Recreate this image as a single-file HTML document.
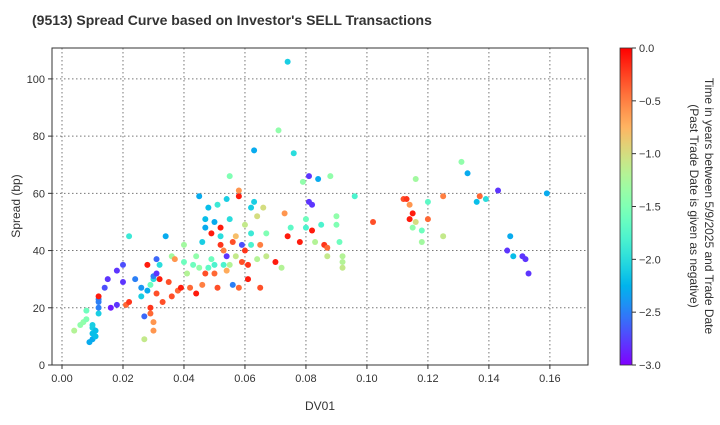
<!DOCTYPE html>
<html><head><meta charset="utf-8"><style>
body{margin:0;background:#fff;font-family:"Liberation Sans",sans-serif}
</style></head><body>
<svg id="chart" width="720" height="420" xmlns="http://www.w3.org/2000/svg" font-family="Liberation Sans, sans-serif">
<rect width="720" height="420" fill="#fff"/>
<text x="32" y="25" font-size="14" font-weight="bold" fill="#333">(9513)   Spread Curve based on Investor's SELL Transactions</text>
<g id="grid"></g>
<g id="points"></g>
<rect x="52" y="48" width="536" height="317" fill="none" stroke="#333" stroke-width="1"/>
<g id="xticks"></g>
<g id="yticks"></g>
<text x="320" y="410" font-size="12" text-anchor="middle" fill="#333">DV01</text>
<text transform="translate(20,206) rotate(-90)" font-size="12" text-anchor="middle" fill="#333">Spread (bp)</text>
<defs><linearGradient id="cg" x1="0" y1="1" x2="0" y2="0"></linearGradient></defs>
<rect x="620" y="48" width="12" height="317" fill="url(#cg)" stroke="#333" stroke-width="0.8"/>
<g id="cticks"></g>
<text transform="translate(698,206) rotate(90)" font-size="12" text-anchor="middle" fill="#333"><tspan x="0" dy="-7">Time in years between 5/9/2025 and Trade Date</tspan><tspan x="0" dy="15">(Past Trade Date is given as negative)</tspan></text>
</svg>
<script>
const xTicks=[0,0.02,0.04,0.06,0.08,0.10,0.12,0.14,0.16];
const xTickLabels=["0.00","0.02","0.04","0.06","0.08","0.10","0.12","0.14","0.16"];
const yTicks=[0,20,40,60,80,100];
const cTicks=[0,-0.5,-1,-1.5,-2,-2.5,-3];
const cTickLabels=["0.0","−0.5","−1.0","−1.5","−2.0","−2.5","−3.0"];
const dv01=[0.004,0.006,0.007,0.008,0.008,0.009,0.010,0.010,0.010,0.010,0.011,0.011,0.012,0.012,0.012,0.012,0.012,0.014,0.015,0.016,0.018,0.018,0.020,0.020,0.021,0.022,0.022,0.024,0.026,0.026,0.027,0.027,0.028,0.028,0.029,0.029,0.029,0.030,0.030,0.030,0.030,0.031,0.031,0.032,0.033,0.032,0.034,0.036,0.036,0.037,0.038,0.039,0.040,0.040,0.041,0.042,0.043,0.044,0.044,0.045,0.045,0.046,0.046,0.047,0.047,0.047,0.048,0.048,0.049,0.049,0.050,0.050,0.050,0.051,0.051,0.052,0.052,0.052,0.053,0.053,0.054,0.054,0.054,0.055,0.055,0.055,0.056,0.056,0.057,0.057,0.058,0.058,0.058,0.059,0.059,0.060,0.060,0.061,0.061,0.062,0.062,0.062,0.063,0.063,0.064,0.064,0.065,0.065,0.066,0.067,0.067,0.070,0.071,0.072,0.073,0.074,0.074,0.075,0.076,0.078,0.079,0.080,0.080,0.081,0.081,0.082,0.082,0.083,0.084,0.085,0.086,0.087,0.087,0.088,0.090,0.090,0.091,0.092,0.092,0.092,0.096,0.102,0.112,0.113,0.114,0.114,0.115,0.115,0.116,0.116,0.118,0.118,0.120,0.120,0.125,0.125,0.131,0.133,0.136,0.137,0.139,0.143,0.146,0.147,0.148,0.151,0.152,0.153,0.159,0.035,0.031];
const spread=[12,14,15,16,19,8,9,11,13,14,10,12,18,20,22,23,24,27,30,20,21,33,35,29,21,45,22,30,27,24,9,17,26,35,28,20,18,15,12,30,31,32,25,35,22,30,45,24,38,37,26,27,36,42,32,27,35,25,38,34,59,43,28,48,32,51,55,34,37,46,50,35,32,56,27,45,48,42,35,40,38,33,58,51,66,35,28,43,38,45,27,59,61,36,42,49,40,30,35,46,42,55,57,75,37,52,42,27,55,38,46,36,82,34,53,106,45,48,74,43,64,48,51,66,57,56,47,43,65,49,42,41,38,66,52,49,43,38,36,34,59,50,58,58,56,51,48,53,65,50,47,43,57,51,45,59,71,67,57,59,58,61,40,45,38,38,37,32,60,29,37];
const tyears=[-1.2,-1.4,-1.4,-1.5,-1.6,-2.3,-2.3,-2.2,-2.1,-2.1,-2.2,-2.2,-2.1,-2.5,-2.5,-2.5,-0.1,-2.7,-2.8,-2.9,-2.8,-2.8,-2.7,-2.8,-0.4,-1.9,-0.2,-2.5,-2.4,-2.1,-1.1,-2.6,-2.3,-0.1,-1.6,-0.2,-0.4,-0.6,-0.6,-2.0,-2.5,-2.8,-0.3,-2.0,-0.3,-0.1,-2.3,-0.3,-1.3,-0.6,-0.4,-0.1,-1.6,-1.3,-1.2,-0.4,-1.6,-0.1,-1.4,-1.4,-2.3,-2.1,-0.5,-2.3,-0.3,-2.2,-2.2,-1.7,-1.6,-0.1,-2.3,-1.8,-0.4,-1.9,-0.3,-2.0,-0.1,-0.2,-1.8,-0.5,-2.8,-0.7,-2.1,-2.0,-1.5,-1.2,-2.5,-0.3,-1.1,-0.8,-0.4,-0.1,-0.6,-0.3,-2.7,-1.1,-0.2,-0.1,-0.2,-1.9,-1.8,-2.1,-2.1,-2.3,-1.2,-1.0,-0.5,-0.3,-1.0,-1.1,-1.5,-0.1,-1.4,-1.2,-0.6,-2.1,-0.1,-1.7,-2.0,-0.1,-1.4,-1.8,-1.6,-2.8,-2.8,-2.8,-0.1,-1.2,-2.3,-1.8,-0.2,-0.4,-1.1,-1.4,-1.4,-1.5,-1.6,-1.2,-1.2,-1.1,-1.8,-0.3,-0.3,-0.2,-0.6,-0.1,-1.4,-0.1,-1.3,-1.0,-1.6,-1.3,-1.7,-0.4,-1.1,-0.5,-1.4,-2.3,-2.2,-0.4,-2.0,-2.8,-2.8,-2.3,-2.2,-2.8,-2.8,-2.8,-2.3,-0.3,-2.6];
const NS='http://www.w3.org/2000/svg';
const L=52,R=588,T=48,B=365;
const xMin=-0.00328,xMax=0.1725,yMin=0,yMax=110.8;
const xs=v=>L+(v-xMin)/(xMax-xMin)*(R-L);
const ys=v=>B-(v-yMin)/(yMax-yMin)*(B-T);
const cs=v=>B-(v+3)/3*(B-T);
function rainbow(t){const r=Math.min(1,Math.abs(2*t-0.5)),g=Math.sin(Math.PI*t),b=Math.cos(Math.PI*t/2);return `rgb(${Math.round(r*255)},${Math.round(g*255)},${Math.round(Math.max(0,b)*255)})`;}
function mk(tag,attrs,parent){const e=document.createElementNS(NS,tag);for(const k in attrs)e.setAttribute(k,attrs[k]);parent.appendChild(e);return e;}
const grid=document.getElementById('grid'),xt=document.getElementById('xticks'),yt=document.getElementById('yticks');
xTicks.forEach((v,i)=>{const x=xs(v);
 const g=mk('line',{x1:x,x2:x,y1:T,y2:B,stroke:'#777','stroke-dasharray':'1.5,2.5','stroke-width':1},grid);
 
 const tk=mk('line',{x1:x,x2:x,y1:B,y2:B+4,stroke:'#333'},xt);
 
 const t=mk('text',{x:x,y:B+17,'font-size':11,'text-anchor':'middle',fill:'#333'},xt);t.textContent=xTickLabels[i];
 });
yTicks.forEach(v=>{const y=ys(v);
 const g=mk('line',{x1:L,x2:R,y1:y,y2:y,stroke:'#777','stroke-dasharray':'1.5,2.5','stroke-width':1},grid);
 
 const tk=mk('line',{x1:L-4,x2:L,y1:y,y2:y,stroke:'#333'},yt);
 
 const t=mk('text',{x:L-7,y:y+4,'font-size':11,'text-anchor':'end',fill:'#333'},yt);t.textContent=v;
 });
const pts=document.getElementById('points');
dv01.forEach((d,i)=>{const c=mk('circle',{cx:xs(d),cy:ys(spread[i]),r:3,fill:rainbow((tyears[i]+3)/3)},pts);
 });
const cg=document.getElementById('cg');
for(let i=0;i<=20;i++){const s=mk('stop',{offset:(i/20),'stop-color':rainbow(i/20)},cg);}
const ct=document.getElementById('cticks');
cTicks.forEach((v,i)=>{const y=cs(v);
 const tk=mk('line',{x1:632,x2:636,y1:y,y2:y,stroke:'#333'},ct);
 
 const t=mk('text',{x:639,y:y+4,'font-size':11,fill:'#333'},ct);t.textContent=cTickLabels[i];
 });
</script>
</body></html>
